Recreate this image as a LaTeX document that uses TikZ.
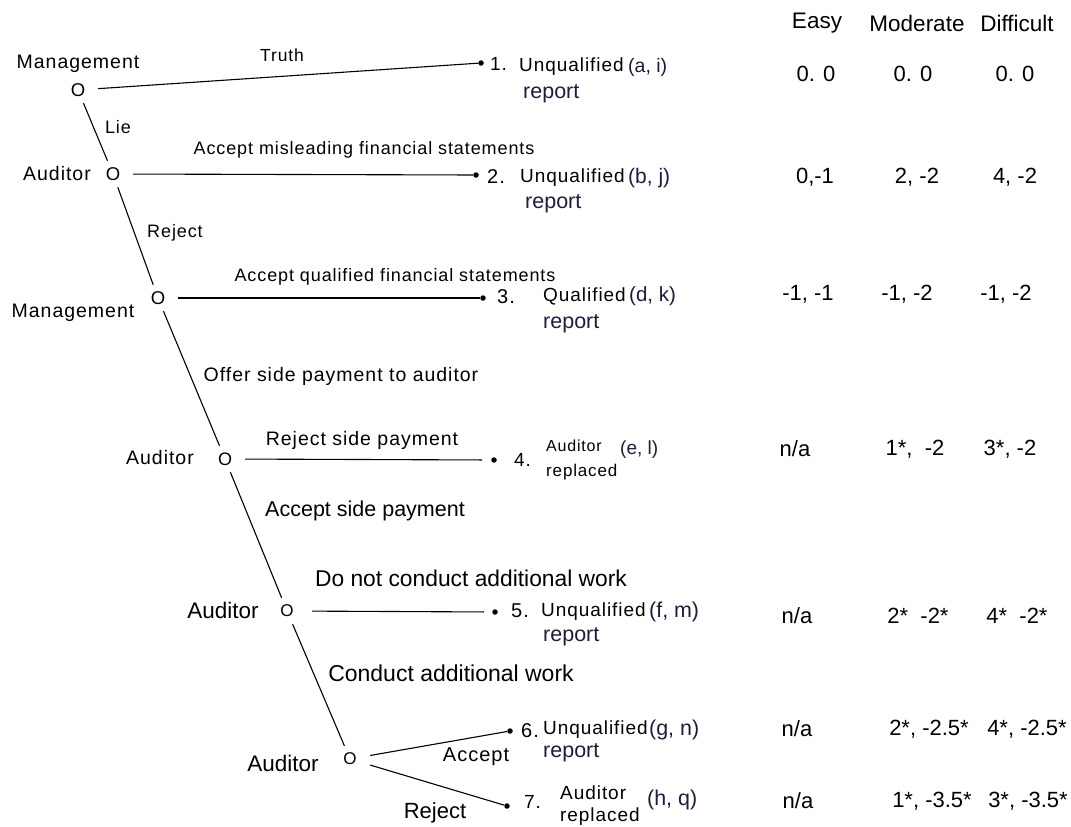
\documentclass[tikz,border=0pt]{standalone}
\usepackage{fontspec}
\setmainfont{Liberation Sans}
\newfontfamily\spc[LetterSpace=5]{Liberation Sans}
\newcommand\myfs[1]{\fontsize{#1}{#1}\selectfont}
\definecolor{navy}{HTML}{1C1C3C}
\begin{document}
\begin{tikzpicture}[x=1pt,y=-1pt,
  every node/.style={inner sep=0pt},
  choice/.style={minimum width=40pt, minimum height=26pt, font=\myfs{#1}},
  enddot/.style={circle, fill=black, minimum size=5.5pt},
  branch/.style={line width=1.1pt},
  lab/.style={font=\spc\myfs{#1}},
  pl/.style={font=\myfs{#1}},
  tl/.style={font=\spc\myfs{#1}, anchor=west},
  pair/.style={font=\myfs{#1}, anchor=west, text=navy},
  rep/.style={font=\myfs{21.5}, anchor=west, text=navy},
  val/.style={font=\myfs{22}},
  head/.style={font=\myfs{22.5}}]
\useasboundingbox (0,0) rectangle (1071,827);
% decision nodes
\node[choice=18.5] (n1) at (78,90) {O};
\node[choice=18.5] (n2) at (113,174) {O};
\node[choice=18.5] (n3) at (158,298) {O};
\node[choice=18] (n4) at (225,459) {O};
\node[choice=17, minimum width=50pt] (n5) at (287,611) {O};
\node[choice=17] (n6) at (350,759) {O};
% terminal dots
\node[enddot] (t1) at (481,63) {};
\node[enddot] (t2) at (476,175) {};
\node[enddot] (t3) at (483,298) {};
\node[enddot] (t4) at (494,460) {};
\node[enddot] (t5) at (495,612) {};
\node[enddot] (t6) at (510,731) {};
\node[enddot] (t7) at (507,806) {};
% branches
\draw[branch] (n1) -- (t1);
\draw[branch] (n1) -- (n2);
\draw[branch] (n2) -- (t2);
\draw[branch] (n2) -- (n3);
\draw[branch] (n3) -- (t3);
\draw[branch] (n3) -- (n4);
\draw[branch, shorten >=9pt] (n4) -- (t4);
\draw[branch] (n4) -- (n5);
\draw[branch, shorten >=8pt] (n5) -- (t5);
\draw[branch] (n5) -- (n6);
\draw[branch] (n6) -- (t6);
\draw[branch] (n6) -- (t7);
% player labels
\node[lab=19.5] (p1) at (78,64) {Management};
\node[lab=19.5] (p2) at (57,174) {Auditor};
\node[lab=19.5] (p3) at (73,313) {Management};
\node[lab=19.5] (p4) at (160,458) {Auditor};
\node[pl=22.5] (p5) at (223,610) {Auditor};
\node[pl=22.5] (p6) at (283,763) {Auditor};
% branch labels
\node[lab=17.5] (b1) at (282,55) {Truth};
\node[lab=18] (b2) at (118,127) {Lie};
\node[lab=18] (b3) at (364,150) {Accept misleading financial statements};
\node[lab=18] (b4) at (175,233) {Reject};
\node[lab=18] (b5) at (395,277) {Accept qualified financial statements};
\node[lab=19.5] (b6) at (341,376) {Offer side payment to auditor};
\node[lab=19.5] (b7) at (362,440) {Reject side payment};
\node[pl=21.5] (b8) at (365,511) {Accept side payment};
\node[pl=22.8] (b9) at (471,578) {Do not conduct additional work};
\node[pl=23] (b10) at (451,673) {Conduct additional work};
\node[lab=20] (b11) at (476,757) {Accept};
\node[pl=22] (b12) at (435,813) {Reject};
% outcome 1
\node[tl=19] (o1n) at (490,64) {1.};
\node[tl=19] (o1a) at (519,67) {Unqualified};
\node[pair=19.5] (o1b) at (628,67) {(a, i)};
\node[rep] (o1c) at (523,94) {report};
% outcome 2
\node[tl=20] (o2n) at (487,177) {2.};
\node[tl=19] (o2a) at (520,178) {Unqualified};
\node[pair=21] (o2b) at (628,178) {(b, j)};
\node[rep] (o2c) at (525,204) {report};
% outcome 3
\node[tl=20] (o3n) at (497,297) {3.};
\node[tl=19] (o3a) at (543,296) {Qualified};
\node[pair=20.5] (o3b) at (629,296) {(d, k)};
\node[rep] (o3c) at (543,324) {report};
% outcome 4
\node[tl=19] (o4n) at (514,460) {4.};
\node[tl=16] (o4a) at (546,446) {Auditor};
\node[tl=17] (o4c) at (546,472) {replaced};
\node[pair=19] (o4b) at (620,450) {(e, l)};
% outcome 5
\node[tl=20] (o5n) at (511,611) {5.};
\node[tl=19] (o5a) at (541,612) {Unqualified};
\node[pair=21.4] (o5b) at (649,612) {(f, m)};
\node[rep] (o5c) at (543,637) {report};
% outcome 6
\node[tl=20] (o6n) at (521,731) {6.};
\node[tl=19] (o6a) at (543,730) {Unqualified};
\node[pair=21.4] (o6b) at (649,730) {(g, n)};
\node[rep] (o6c) at (543,753) {report};
% outcome 7
\node[tl=19] (o7n) at (524,802) {7.};
\node[tl=19] (o7a) at (560,793) {Auditor};
\node[tl=19] (o7c) at (560,817) {replaced};
\node[pair=21.4] (o7b) at (647,800) {(h, q)};
% header
\node[head] (hE) at (817,23) {Easy};
\node[head] (hM) at (917,23) {Moderate};
\node[head] (hD) at (1017,23) {Difficult};
% payoffs
\node[val] (v11) at (816,74) {0. 0};
\node[val] (v12) at (913,74) {0. 0};
\node[val] (v13) at (1015,74) {0. 0};
\node[val] (v21) at (815,177) {0,-1};
\node[val] (v22) at (917,177) {2, -2};
\node[val] (v23) at (1015,177) {4, -2};
\node[val] (v31) at (808,294) {-1, -1};
\node[val] (v32) at (907,294) {-1, -2};
\node[val] (v33) at (1006,294) {-1, -2};
\node[val] (v41) at (795,449) {n/a};
\node[val] (v42) at (915,449) {1*,\ \ -2};
\node[val] (v43) at (1010,449) {3*, -2};
\node[val] (v51) at (797,616) {n/a};
\node[val] (v52) at (918,616) {2*\ \ -2*};
\node[val] (v53) at (1017,616) {4*\ \ -2*};
\node[val] (v61) at (797,729) {n/a};
\node[val] (v62) at (929,729) {2*, -2.5*};
\node[val] (v63) at (1027,729) {4*, -2.5*};
\node[val] (v71) at (798,801) {n/a};
\node[val] (v72) at (932,801) {1*, -3.5*};
\node[val] (v73) at (1028,801) {3*, -3.5*};
\end{tikzpicture}
\end{document}
